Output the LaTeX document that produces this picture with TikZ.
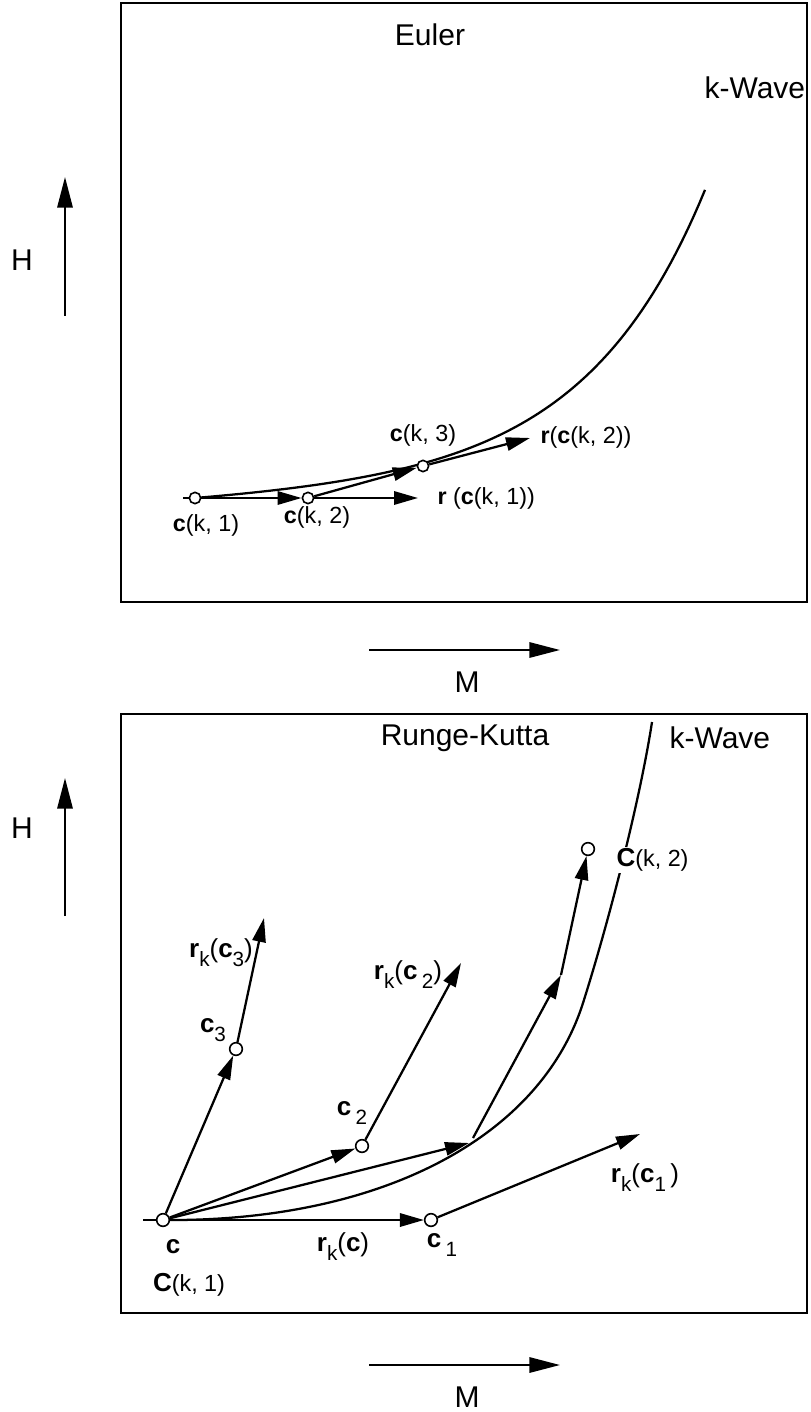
\documentclass[tikz,border=0pt]{standalone}
\usepackage{fontspec}
\setmainfont{Liberation Sans}
\usetikzlibrary{arrows.meta}
\pgfdeclarelayer{bg}
\pgfsetlayers{bg,main}
\newcommand\fsml{\fontsize{17.5}{20}\selectfont}
\newcommand\fbg{\fontsize{22.5}{26}\selectfont}
\newcommand\fmd{\fontsize{19.5}{22}\selectfont}
\newcommand\lowsub[1]{\raisebox{-0.35em}{\fontsize{15.5}{17}\selectfont #1}}
\tikzset{
  ln/.style={line width=1.7pt},
  frame/.style={line width=2.2pt},
  arr/.style={line width=1.7pt,-{Triangle[length=18pt,width=10pt]}},
  axarr/.style={line width=1.6pt,-{Triangle[length=23pt,width=11.5pt]}},
  pt/.style={circle,draw,fill=white,line width=1.2pt,inner sep=0pt,minimum size=8.5pt},
  lbl/.style={font=\fsml,inner sep=1pt},
  big/.style={font=\fbg,inner sep=1pt},
  mid/.style={font=\fmd,inner sep=1pt},
}
\begin{document}
\begin{tikzpicture}[x=0.75pt,y=-0.75pt]
\useasboundingbox (0,0) rectangle (810,1412);
\begin{pgfonlayer}{bg}
\fill[white] (0,0) rectangle (810,1412);
\end{pgfonlayer}
% ---------------- top panel (Euler)
\draw[frame] (121,3) rectangle (807,602);
\node[big] (euler) at (430,35) {Euler};
\node[big,anchor=west] (kwa) at (703,88) {k-Wave};
\coordinate (Htip) at (65,177);
\coordinate (Hbot) at (65,316);
\draw[axarr] (Hbot) -- (Htip);
\node[big] (Hl) at (22,260) {H};
\coordinate (Ml) at (369,650);
\coordinate (Mr) at (560,650);
\draw[axarr] (Ml) -- (Mr);
\node[big] (Ml1) at (467,682) {M};

\node[pt] (a1) at (195,498) {};
\node[pt] (a2) at (308,498) {};
\node[pt] (a3) at (423,466) {};
\coordinate (a0) at (183,498);
\coordinate (r1) at (418,498);
\coordinate (r2) at (530,438);
\begin{pgfonlayer}{bg}
\draw[ln] (a0) -- (a1);
\draw[arr] (a1) -- (a2);
\draw[arr] (a2) -- (r1);
\draw[arr] (a2) -- (a3);
\draw[arr] (a3) -- (r2);
\draw[ln,line join=round] plot[domain=195:705,samples=90]
  (\x,{498-0.05*(\x-195)-4.09*(exp((\x-195)/120)-1)});
\end{pgfonlayer}
\node[lbl] (la1) at (206,525) {\textbf{c}(k, 1)};
\node[lbl] (la2) at (317,517) {\textbf{c}(k, 2)};
\node[lbl] (la3) at (423,435) {\textbf{c}(k, 3)};
\node[lbl,anchor=west] (lr1) at (436,498) {\textbf{r} (\textbf{c}(k, 1))};
\node[lbl,anchor=west] (lr2) at (539,437) {\textbf{r}(\textbf{c}(k, 2))};

% ---------------- bottom panel (Runge-Kutta)
\draw[frame] (121,714) rectangle (807,1313);
\node[big] (rk) at (465,738) {Runge-Kutta};
\node[big,anchor=west] (kwb) at (668,738) {k-Wave};
\coordinate (Htip2) at (65,778);
\coordinate (Hbot2) at (65,916);
\draw[axarr] (Hbot2) -- (Htip2);
\node[big] (Hl2) at (22,828) {H};
\coordinate (Ml2) at (369,1365);
\coordinate (Mr2) at (560,1365);
\draw[axarr] (Ml2) -- (Mr2);
\node[big] (Ml3) at (467,1397) {M};

\node[pt,minimum size=9.5pt] (c) at (163,1220) {};
\node[pt,minimum size=9.5pt] (c1) at (431,1220) {};
\node[pt,minimum size=9.5pt] (c2) at (362,1146) {};
\node[pt,minimum size=9.5pt] (c3) at (236,1049) {};
\node[pt,minimum size=9.5pt] (ck2) at (588,849) {};
\coordinate (c0) at (143,1220);
\coordinate (p1) at (469,1143);
\coordinate (p1s) at (473,1138);
\coordinate (p2) at (561,975);
\coordinate (t1) at (640,1134);
\coordinate (t2) at (461,963);
\coordinate (t3) at (264,918);
\coordinate (kw2) at (652,722);
\coordinate (m2) at (583,1003);
\node[font=\fmd,anchor=west,fill=white,inner sep=1pt] (lck2) at (615,860) {\textbf{C}{\fsml(k, 2)}};
\begin{pgfonlayer}{bg}
\draw[ln] (c0) -- (c);
\draw[arr] (c) -- (c1);
\draw[arr] (c) -- (c2);
\draw[arr] (c) -- (c3);
\draw[arr] (c) -- (p1);
\draw[arr] (p1s) -- (p2);
\draw[arr] (p2) -- (ck2);
\draw[arr] (c1) -- (t1);
\draw[arr] (c2) -- (t2);
\draw[arr] (c3) -- (t3);
\draw[ln] (c.center) .. controls (380,1222) and (540,1138) .. (m2)
  .. controls (609,921) and (640,800) .. (kw2);
\end{pgfonlayer}
\node[mid] (lc) at (173,1247) {\textbf{c}};
\node[mid] (lck1) at (189,1285) {\textbf{C}{\fsml(k, 1)}};
\node[mid] (lrc) at (343,1247) {\textbf{r}\lowsub{k}(\textbf{c})};
\node[mid] (lc1) at (442,1245) {\textbf{c}\,\lowsub{1}};
\node[mid] (lc2) at (352,1113) {\textbf{c}\,\lowsub{2}};
\node[mid] (lc3) at (213,1030) {\textbf{c}\lowsub{3}};
\node[mid] (lrc1) at (645,1178) {\textbf{r}\lowsub{k}(\textbf{c}\lowsub{1}\,)};
\node[mid] (lrc2) at (408,975) {\textbf{r}\lowsub{k}(\textbf{c}\,\lowsub{2})};
\node[mid] (lrc3) at (221,953) {\textbf{r}\lowsub{k}(\textbf{c}\lowsub{3})};
\end{tikzpicture}
\end{document}
